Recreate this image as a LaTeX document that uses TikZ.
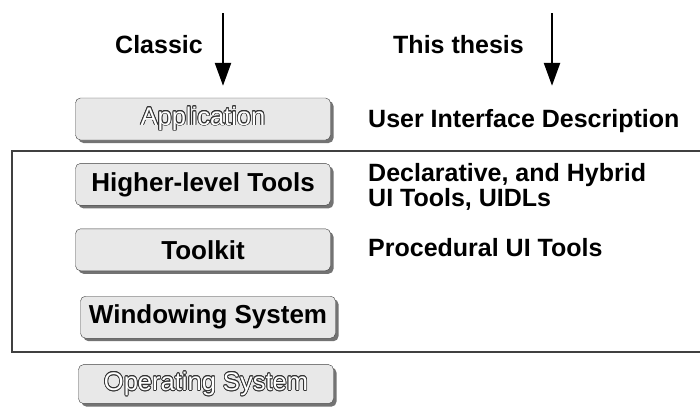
\documentclass[tikz,border=0pt]{standalone}
\usepackage{fontspec}
\setmainfont{Liberation Sans}
\usepackage{contour}
\contourlength{0.75pt}
\usetikzlibrary{positioning}
\usetikzlibrary{shadows}
\usetikzlibrary{arrows.meta}

\begin{document}
\begin{tikzpicture}[x=1pt,y=-1pt,
    node distance=23pt and 30pt,
    layer/.style={draw=black!75,fill=black!9,rounded corners=5pt,minimum width=255pt,minimum height=42pt,inner sep=0pt,
      font=\fontsize{26}{30}\selectfont\bfseries,
      drop shadow={shadow xshift=3pt,shadow yshift=-3pt,fill=black!55,opacity=1}},
    ghost/.style={font=\fontsize{25.5}{30}\selectfont},
    note/.style={anchor=base west,align=left,inner sep=0pt,font=\fontsize{25}{25}\selectfont\bfseries},
    flow/.style={line width=2.4pt,-{Triangle[width=16pt,length=23pt]}}
    ]
    \useasboundingbox (0,0) rectangle (700,407);

    \node[layer,ghost] (app) at (203,119) {\contour{black!80}{\color{white}Application}};
    \node[layer, below=of app] (hlt) {Higher-level Tools};
    \node[layer, below=of hlt] (tk) {Toolkit};
    \node[layer, below=25pt of tk, xshift=5pt] (ws) {Windowing System};
    \node[layer,ghost, below=26pt of ws, xshift=-2pt, minimum height=39pt] (os) {\contour{black!80}{\color{white}Operating System}};

    \node[note] (classic) at (115,53) {Classic};
    \node[note] (thesis) at (393,53) {This thesis};
    \node[note] (uid) at (368,127) {User Interface Description};
    \node[note] (decl) at (368,206) {Declarative, and Hybrid\\UI Tools, UIDLs};
    \node[note] (proc) at (368,256) {Procedural UI Tools};

    % the part of the stack covered here
    \coordinate (frameNE) at (700,151);
    \coordinate (frameSE) at (700,352);
    \draw[black!75,line width=1.2pt] (frameNE) -| (12,352) -- (frameSE);

    \coordinate (classictop) at (223,13);
    \coordinate (thesistop) at (552,13);
    \draw[flow,shorten >=12pt] (classictop) -- (classictop |- app.north);
    \draw[flow,shorten >=12pt] (thesistop) -- (thesistop |- app.north);

  \end{tikzpicture}
\end{document}
